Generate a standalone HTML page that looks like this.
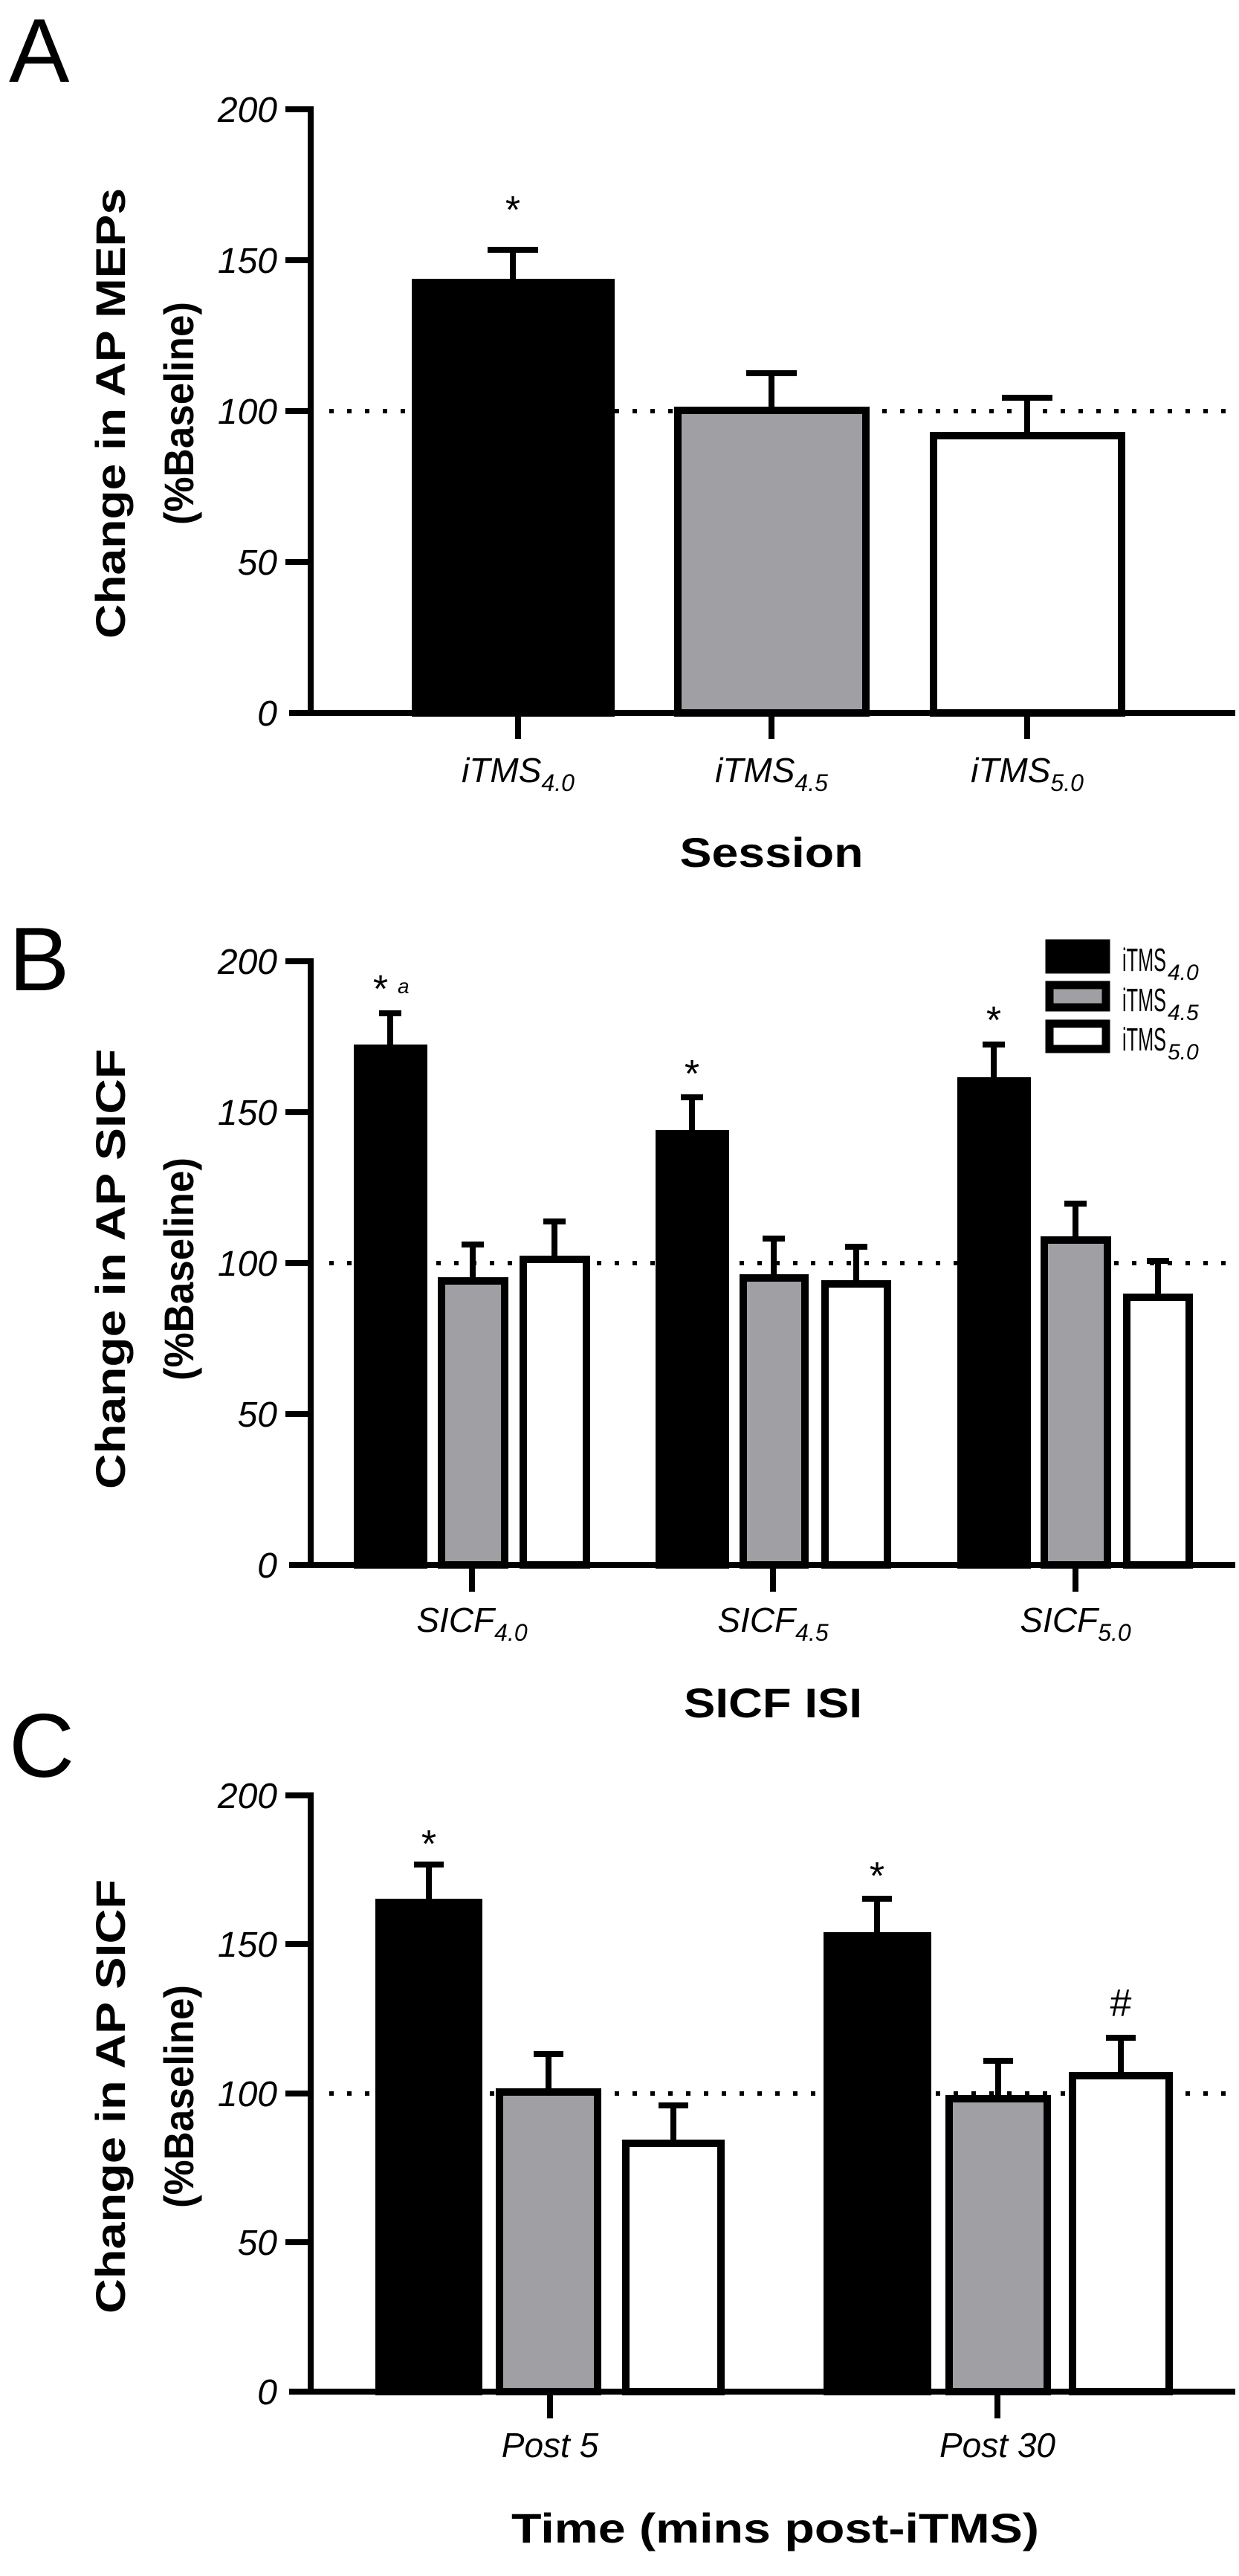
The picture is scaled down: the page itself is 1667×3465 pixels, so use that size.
<!DOCTYPE html>
<html><head><meta charset="utf-8"><style>
html,body{margin:0;padding:0;background:#fff}
svg{display:block}
text{font-family:"Liberation Sans",Arial,sans-serif}
.tl{font-size:48px;font-style:italic;text-anchor:end}
.xl{font-size:46px;font-style:italic;text-anchor:middle}
.yl{font-size:56px;font-weight:bold;text-anchor:middle}
.tt{font-size:56px;font-weight:bold;text-anchor:middle}
.pl{font-size:122px}
.st{font-size:52px;text-anchor:middle}
</style></head><body>
<svg width="1667" height="3465" viewBox="0 0 1667 3465" xmlns="http://www.w3.org/2000/svg">
<!-- ============ PANEL A ============ -->
<text class="pl" x="12" y="110">A</text>
<text class="yl" transform="translate(168,556) rotate(-90)" textLength="606" lengthAdjust="spacingAndGlyphs">Change in AP MEPs</text>
<text class="yl" transform="translate(260,556) rotate(-90)" textLength="300" lengthAdjust="spacingAndGlyphs">(%Baseline)</text>
<line x1="443" y1="553" x2="1662" y2="553" stroke="#000" stroke-width="6" stroke-dasharray="6 18"/>
<g fill="#000" stroke="#000">
<rect x="559" y="380" width="263" height="579" stroke-width="10"/>
<rect x="912" y="552" width="253" height="407" fill="#a0a0a4" stroke-width="10"/>
<rect x="1256" y="586" width="253" height="373" fill="#fff" stroke-width="10"/>
</g>
<g stroke="#000" stroke-width="8">
<line x1="690" y1="375" x2="690" y2="332"/><line x1="656" y1="336" x2="724" y2="336"/>
<line x1="1038" y1="547" x2="1038" y2="498"/><line x1="1004" y1="502" x2="1072" y2="502"/>
<line x1="1382" y1="581" x2="1382" y2="531"/><line x1="1348" y1="535" x2="1416" y2="535"/>
</g>
<text class="st" x="690" y="300">*</text>
<g stroke="#000" stroke-width="8">
<line x1="418" y1="143" x2="418" y2="963"/>
<line x1="389" y1="959" x2="1662" y2="959"/>
<line x1="384" y1="147" x2="418" y2="147"/><line x1="384" y1="350" x2="418" y2="350"/>
<line x1="384" y1="553" x2="418" y2="553"/><line x1="384" y1="756" x2="418" y2="756"/>
<line x1="697" y1="959" x2="697" y2="994"/><line x1="1038" y1="959" x2="1038" y2="994"/><line x1="1382" y1="959" x2="1382" y2="994"/>
</g>
<text class="tl" x="373" y="164">200</text><text class="tl" x="373" y="367">150</text>
<text class="tl" x="373" y="570">100</text><text class="tl" x="373" y="773">50</text><text class="tl" x="373" y="976">0</text>
<text class="xl" x="697" y="1052">iTMS<tspan font-size="32" dy="12">4.0</tspan></text>
<text class="xl" x="1038" y="1052">iTMS<tspan font-size="32" dy="12">4.5</tspan></text>
<text class="xl" x="1382" y="1052">iTMS<tspan font-size="32" dy="12">5.0</tspan></text>
<text class="tt" x="1038" y="1166" textLength="247" lengthAdjust="spacingAndGlyphs">Session</text>

<!-- ============ PANEL B ============ -->
<text class="pl" x="12" y="1332">B</text>
<text class="yl" transform="translate(168,1707) rotate(-90)" textLength="592" lengthAdjust="spacingAndGlyphs">Change in AP SICF</text>
<text class="yl" transform="translate(260,1707) rotate(-90)" textLength="300" lengthAdjust="spacingAndGlyphs">(%Baseline)</text>
<line x1="443" y1="1699" x2="1662" y2="1699" stroke="#000" stroke-width="6" stroke-dasharray="6 18"/>
<g stroke="#000" stroke-width="10">
<rect x="481" y="1410" width="89" height="695" fill="#000"/>
<rect x="594" y="1723" width="85" height="382" fill="#a0a0a4"/>
<rect x="704" y="1694" width="85" height="411" fill="#fff"/>
<rect x="887" y="1525" width="89" height="580" fill="#000"/>
<rect x="1000" y="1719" width="83" height="386" fill="#a0a0a4"/>
<rect x="1110" y="1727" width="84" height="378" fill="#fff"/>
<rect x="1293" y="1454" width="89" height="651" fill="#000"/>
<rect x="1405" y="1668" width="85" height="437" fill="#a0a0a4"/>
<rect x="1516" y="1745" width="84" height="360" fill="#fff"/>
</g>
<g stroke="#000" stroke-width="8">
<line x1="525" y1="1405" x2="525" y2="1359"/><line x1="510" y1="1363" x2="540" y2="1363"/>
<line x1="636" y1="1718" x2="636" y2="1670"/><line x1="621" y1="1674" x2="651" y2="1674"/>
<line x1="746" y1="1689" x2="746" y2="1639"/><line x1="731" y1="1643" x2="761" y2="1643"/>
<line x1="931" y1="1520" x2="931" y2="1472"/><line x1="916" y1="1476" x2="946" y2="1476"/>
<line x1="1041" y1="1714" x2="1041" y2="1662"/><line x1="1026" y1="1666" x2="1056" y2="1666"/>
<line x1="1152" y1="1722" x2="1152" y2="1673"/><line x1="1137" y1="1677" x2="1167" y2="1677"/>
<line x1="1337" y1="1449" x2="1337" y2="1401"/><line x1="1322" y1="1405" x2="1352" y2="1405"/>
<line x1="1447" y1="1663" x2="1447" y2="1615"/><line x1="1432" y1="1619" x2="1462" y2="1619"/>
<line x1="1558" y1="1740" x2="1558" y2="1692"/><line x1="1543" y1="1696" x2="1573" y2="1696"/>
</g>
<text class="st" x="512" y="1348" font-size="44">*</text><text x="535" y="1336" font-size="28" font-style="italic">a</text>
<text class="st" x="931" y="1462" font-size="44">*</text>
<text class="st" x="1337" y="1390" font-size="44">*</text>
<g stroke="#000" stroke-width="8">
<line x1="418" y1="1289" x2="418" y2="2109"/>
<line x1="389" y1="2105" x2="1662" y2="2105"/>
<line x1="384" y1="1293" x2="418" y2="1293"/><line x1="384" y1="1496" x2="418" y2="1496"/>
<line x1="384" y1="1699" x2="418" y2="1699"/><line x1="384" y1="1902" x2="418" y2="1902"/>
<line x1="635" y1="2105" x2="635" y2="2141"/><line x1="1040" y1="2105" x2="1040" y2="2141"/><line x1="1447" y1="2105" x2="1447" y2="2141"/>
</g>
<text class="tl" x="373" y="1310">200</text><text class="tl" x="373" y="1513">150</text>
<text class="tl" x="373" y="1716">100</text><text class="tl" x="373" y="1919">50</text><text class="tl" x="373" y="2122">0</text>
<text class="xl" x="635" y="2195">SICF<tspan font-size="32" dy="12">4.0</tspan></text>
<text class="xl" x="1040" y="2195">SICF<tspan font-size="32" dy="12">4.5</tspan></text>
<text class="xl" x="1447" y="2195">SICF<tspan font-size="32" dy="12">5.0</tspan></text>
<text class="tt" x="1040" y="2310" textLength="240" lengthAdjust="spacingAndGlyphs">SICF ISI</text>
<!-- legend -->
<g stroke="#000" stroke-width="11">
<rect x="1412" y="1269" width="76" height="35" fill="#000"/>
<rect x="1412" y="1325" width="76" height="30" fill="#a0a0a4"/>
<rect x="1412" y="1377" width="76" height="34" fill="#fff"/>
</g>
<g font-size="44">
<text x="1510" y="1306" textLength="59" lengthAdjust="spacingAndGlyphs">iTMS</text><text x="1571" y="1318" font-size="30" font-style="italic">4.0</text>
<text x="1510" y="1360" textLength="59" lengthAdjust="spacingAndGlyphs">iTMS</text><text x="1571" y="1372" font-size="30" font-style="italic">4.5</text>
<text x="1510" y="1413" textLength="59" lengthAdjust="spacingAndGlyphs">iTMS</text><text x="1571" y="1425" font-size="30" font-style="italic">5.0</text>
</g>

<!-- ============ PANEL C ============ -->
<text class="pl" x="12" y="2390">C</text>
<text class="yl" transform="translate(168,2820) rotate(-90)" textLength="584" lengthAdjust="spacingAndGlyphs">Change in AP SICF</text>
<text class="yl" transform="translate(260,2820) rotate(-90)" textLength="300" lengthAdjust="spacingAndGlyphs">(%Baseline)</text>
<line x1="443" y1="2816" x2="1662" y2="2816" stroke="#000" stroke-width="6" stroke-dasharray="6 18"/>
<g stroke="#000" stroke-width="10">
<rect x="510" y="2559" width="134" height="658" fill="#000"/>
<rect x="672" y="2814" width="132" height="403" fill="#a0a0a4"/>
<rect x="842" y="2883" width="128" height="334" fill="#fff"/>
<rect x="1113" y="2604" width="135" height="613" fill="#000"/>
<rect x="1277" y="2823" width="132" height="394" fill="#a0a0a4"/>
<rect x="1443" y="2792" width="130" height="425" fill="#fff"/>
</g>
<g stroke="#000" stroke-width="8">
<line x1="577" y1="2554" x2="577" y2="2504"/><line x1="557" y1="2508" x2="597" y2="2508"/>
<line x1="738" y1="2809" x2="738" y2="2759"/><line x1="718" y1="2763" x2="758" y2="2763"/>
<line x1="906" y1="2878" x2="906" y2="2828"/><line x1="886" y1="2832" x2="926" y2="2832"/>
<line x1="1180" y1="2599" x2="1180" y2="2550"/><line x1="1160" y1="2554" x2="1200" y2="2554"/>
<line x1="1343" y1="2818" x2="1343" y2="2768"/><line x1="1323" y1="2772" x2="1363" y2="2772"/>
<line x1="1508" y1="2787" x2="1508" y2="2737"/><line x1="1488" y1="2741" x2="1528" y2="2741"/>
</g>
<text class="st" x="577" y="2498" font-size="44">*</text>
<text class="st" x="1180" y="2541" font-size="44">*</text>
<text class="st" x="1508" y="2712" font-size="36">#</text>
<g stroke="#000" stroke-width="8">
<line x1="418" y1="2411" x2="418" y2="3221"/>
<line x1="389" y1="3217" x2="1662" y2="3217"/>
<line x1="384" y1="2415" x2="418" y2="2415"/><line x1="384" y1="2615" x2="418" y2="2615"/>
<line x1="384" y1="2816" x2="418" y2="2816"/><line x1="384" y1="3016" x2="418" y2="3016"/>
<line x1="740" y1="3217" x2="740" y2="3253"/><line x1="1342" y1="3217" x2="1342" y2="3253"/>
</g>
<text class="tl" x="373" y="2432">200</text><text class="tl" x="373" y="2632">150</text>
<text class="tl" x="373" y="2833">100</text><text class="tl" x="373" y="3033">50</text><text class="tl" x="373" y="3234">0</text>
<text class="xl" x="740" y="3305">Post 5</text>
<text class="xl" x="1342" y="3305">Post 30</text>
<text class="tt" x="1043" y="3420" textLength="710" lengthAdjust="spacingAndGlyphs">Time (mins post-iTMS)</text>
</svg>
</body></html>
